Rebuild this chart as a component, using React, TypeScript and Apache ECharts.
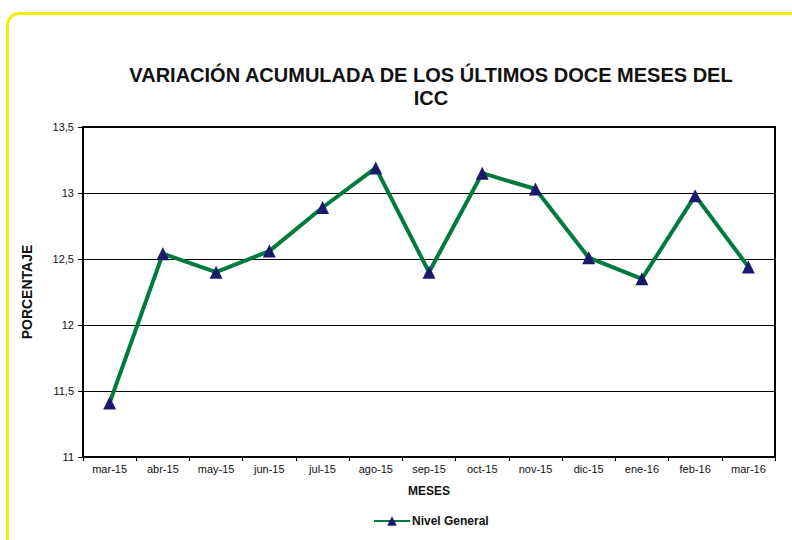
import React, { useEffect, useRef } from "react";
import * as echarts from "echarts";

const categories = ["mar-15", "abr-15", "may-15", "jun-15", "jul-15", "ago-15", "sep-15", "oct-15", "nov-15", "dic-15", "ene-16", "feb-16", "mar-16"];
const nivelGeneral = [11.41, 12.54, 12.4, 12.56, 12.89, 13.19, 12.4, 13.15, 13.03, 12.51, 12.35, 12.98, 12.44];
const yMin = 11;
const yMax = 13.5;
const yStep = 0.5;

export default function App() {
  const ref = useRef<HTMLDivElement>(null);
  useEffect(() => {
    if (!ref.current) return;
    const chart = echarts.init(ref.current, undefined, { renderer: "svg" });
    const font = "'Liberation Sans', Arial, sans-serif";
    chart.setOption({
      animation: false,
      backgroundColor: "#ffffff",
      title: {
        text: "VARIACIÓN ACUMULADA DE LOS ÚLTIMOS DOCE MESES DEL\nICC",
        left: 426,
        textAlign: "center",
        top: 58,
        textStyle: { fontFamily: font, fontSize: 20, fontWeight: "bold", color: "#111", lineHeight: 23 },
      },
      graphic: [
        {
          type: "rect",
          left: 5,
          top: 11,
          shape: { width: 820, height: 560, r: 12 },
          style: { fill: "none", stroke: "#f5ee00", lineWidth: 3 },
          silent: true,
        },
      ],
      legend: {
        top: 515,
        left: 373,
        padding: 0,
        itemWidth: 36,
        itemHeight: 12,
        itemGap: 5,
        textStyle: { fontFamily: font, fontSize: 12, fontWeight: "bold", color: "#111", padding: [0, 0, 0, -3] },
        data: ["Nivel General"],
      },
      grid: {
        left: 83,
        right: 17,
        top: 127,
        bottom: 83,
        show: true,
        borderColor: "#000",
        borderWidth: 2,
        backgroundColor: "transparent",
      },
      xAxis: {
        type: "category",
        data: categories,
        boundaryGap: true,
        name: "MESES",
        nameLocation: "middle",
        nameGap: 28,
        nameTextStyle: { fontFamily: font, fontSize: 12, fontWeight: "bold", color: "#111" },
        axisLine: { lineStyle: { color: "#000", width: 2 } },
        axisTick: { show: true, alignWithLabel: false, length: 4, lineStyle: { color: "#000" } },
        axisLabel: { fontFamily: font, fontSize: 11, color: "#111", margin: 6, interval: 0 },
      },
      yAxis: {
        type: "value",
        min: yMin,
        max: yMax,
        interval: yStep,
        name: "PORCENTAJE",
        nameLocation: "middle",
        nameGap: 49,
        nameTextStyle: { fontFamily: font, fontSize: 14, fontWeight: "bold", color: "#111" },
        axisLine: { show: true, lineStyle: { color: "#000", width: 2 } },
        axisTick: { show: true, length: 5, lineStyle: { color: "#000" } },
        axisLabel: {
          fontFamily: font,
          fontSize: 11,
          color: "#111",
          margin: 9,
          formatter: (v: number) => String(v).replace(".", ","),
        },
        splitLine: { show: true, lineStyle: { color: "#000", width: 1.2 } },
      },
      series: [
        {
          name: "Nivel General",
          type: "line",
          data: nivelGeneral,
          symbol: "triangle",
          symbolSize: 13,
          lineStyle: { color: "#007a3d", width: 4 },
          itemStyle: { color: "#1a1a6b", borderWidth: 0 },
          emphasis: { disabled: true },
        },
      ],
    });
    return () => chart.dispose();
  }, []);
  return <div ref={ref} style={{ width: 792, height: 540, position: "absolute", left: 0, top: 0 }} />;
}
